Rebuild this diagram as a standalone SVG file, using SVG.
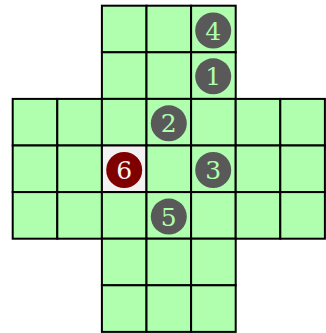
<svg xmlns="http://www.w3.org/2000/svg" width="326" height="333" viewBox="0 0 326 333">
<style>
.c{fill:#afffaf;stroke:#000;stroke-width:2}
.w{fill:#f2f2f2;stroke:#000;stroke-width:2}
.g{fill:#595959}
.r{fill:#800000}
.t{font-family:"DejaVu Serif","Liberation Serif",serif;font-size:25px;text-anchor:middle;dominant-baseline:central}
.tg{fill:#afffaf}
.tr{fill:#f5f5f5}
</style>
<rect width="326" height="333" fill="#fff"/>
<g id="board">
<rect class="c" x="101.9" y="5.7" width="44.6" height="46.6"/>
<rect class="c" x="146.5" y="5.7" width="44.6" height="46.6"/>
<rect class="c" x="191.1" y="5.7" width="44.6" height="46.6"/>
<rect class="c" x="101.9" y="52.3" width="44.6" height="46.6"/>
<rect class="c" x="146.5" y="52.3" width="44.6" height="46.6"/>
<rect class="c" x="191.1" y="52.3" width="44.6" height="46.6"/>
<rect class="c" x="12.7" y="98.9" width="44.6" height="46.6"/>
<rect class="c" x="57.3" y="98.9" width="44.6" height="46.6"/>
<rect class="c" x="101.9" y="98.9" width="44.6" height="46.6"/>
<rect class="c" x="146.5" y="98.9" width="44.6" height="46.6"/>
<rect class="c" x="191.1" y="98.9" width="44.6" height="46.6"/>
<rect class="c" x="235.7" y="98.9" width="44.6" height="46.6"/>
<rect class="c" x="280.3" y="98.9" width="44.6" height="46.6"/>
<rect class="c" x="12.7" y="145.5" width="44.6" height="46.6"/>
<rect class="c" x="57.3" y="145.5" width="44.6" height="46.6"/>
<rect class="w" x="101.9" y="145.5" width="44.6" height="46.6"/>
<rect class="c" x="146.5" y="145.5" width="44.6" height="46.6"/>
<rect class="c" x="191.1" y="145.5" width="44.6" height="46.6"/>
<rect class="c" x="235.7" y="145.5" width="44.6" height="46.6"/>
<rect class="c" x="280.3" y="145.5" width="44.6" height="46.6"/>
<rect class="c" x="12.7" y="192.1" width="44.6" height="46.6"/>
<rect class="c" x="57.3" y="192.1" width="44.6" height="46.6"/>
<rect class="c" x="101.9" y="192.1" width="44.6" height="46.6"/>
<rect class="c" x="146.5" y="192.1" width="44.6" height="46.6"/>
<rect class="c" x="191.1" y="192.1" width="44.6" height="46.6"/>
<rect class="c" x="235.7" y="192.1" width="44.6" height="46.6"/>
<rect class="c" x="280.3" y="192.1" width="44.6" height="46.6"/>
<rect class="c" x="101.9" y="238.7" width="44.6" height="46.6"/>
<rect class="c" x="146.5" y="238.7" width="44.6" height="46.6"/>
<rect class="c" x="191.1" y="238.7" width="44.6" height="46.6"/>
<rect class="c" x="101.9" y="285.3" width="44.6" height="46.6"/>
<rect class="c" x="146.5" y="285.3" width="44.6" height="46.6"/>
<rect class="c" x="191.1" y="285.3" width="44.6" height="46.6"/>
</g>
<g id="connectors"></g>
<g id="peg4"><circle class="g" cx="213.2" cy="30.5" r="18"/><text class="t tg" x="213.2" y="31">4</text></g>
<g id="peg1"><circle class="g" cx="213.2" cy="76.3" r="18"/><text class="t tg" x="213.2" y="76.8">1</text></g>
<g id="peg2"><circle class="g" cx="168.8" cy="123.3" r="18"/><text class="t tg" x="168.8" y="123.8">2</text></g>
<g id="peg3"><circle class="g" cx="213.2" cy="170" r="18"/><text class="t tg" x="213.2" y="170.5">3</text></g>
<g id="peg5"><circle class="g" cx="168.8" cy="216.6" r="18"/><text class="t tg" x="168.8" y="217.1">5</text></g>
<g id="peg6"><circle class="r" cx="124.2" cy="170" r="18"/><text class="t tr" x="124.2" y="170.5">6</text></g>
</svg>
